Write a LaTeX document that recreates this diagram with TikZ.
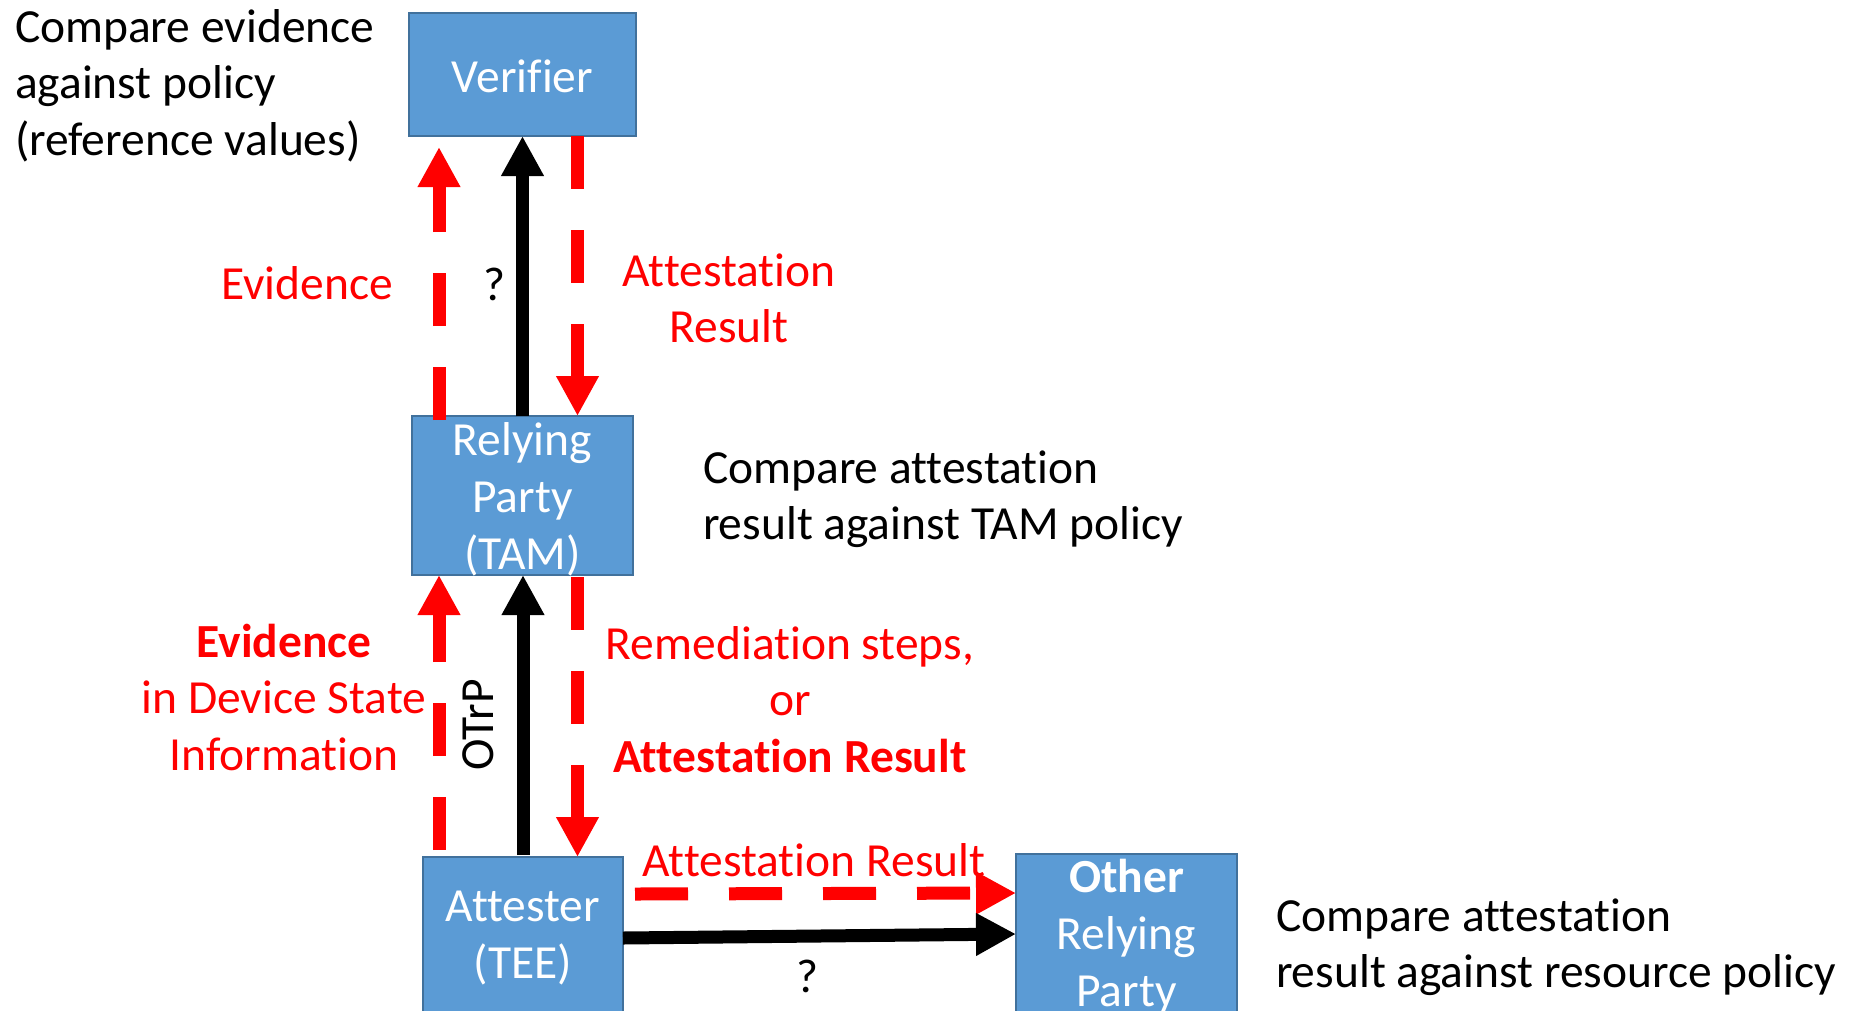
\documentclass[tikz,border=0pt]{standalone}
\usepackage{fontspec}
\setmainfont{Carlito}[Ligatures={NoCommon}]
\usetikzlibrary{arrows.meta}
\definecolor{boxfill}{RGB}{91,155,213}
\definecolor{boxline}{RGB}{65,113,156}
\definecolor{flowred}{RGB}{255,0,0}

\begin{document}
\begin{tikzpicture}[x=1pt,y=-1pt,
  every node/.style={inner sep=0pt, outer sep=0pt},
  entity/.style={draw=boxline, line width=2.5pt, fill=boxfill, rectangle},
  entitytext/.style={text=white, align=center, font=\fontsize{47.5pt}{57pt}\selectfont},
  note/.style={align=left, font=\fontsize{47.5pt}{56.5pt}\selectfont},
  rednote/.style={text=flowred, align=center, font=\fontsize{47.5pt}{56.5pt}\selectfont},
  msgline/.style={line width=13pt, draw=flowred, dash pattern=on 53pt off 41pt,
    -{Triangle[width=40pt,length=40pt]}},
  callline/.style={line width=13pt, draw=black, -{Triangle[width=40pt,length=40pt]}},
]
\clip (0,0) rectangle (1852,1010);
\fill[white] (0,0) rectangle (1852,1010);

% the four parties
\node[entity, minimum width=227pt, minimum height=123pt] (ver) at (522.5,74.5) {};
\node[entity, minimum width=221pt, minimum height=159pt] (rp)  at (522.5,495.5) {};
\node[entity, minimum width=200pt, minimum height=200pt] (att) at (523,957) {};
\node[entity, minimum width=221pt, minimum height=200pt] (orp) at (1126.5,954) {};

% box labels (a multi-line node sits on the baseline of its last line)
\node[entitytext, anchor=base] (vertext) at (522.5,92) {Verifier};
\node[entitytext, anchor=base] (rptext)  at (522.5,569) {Relying\\Party\\(TAM)};
\node[entitytext, anchor=base] (atttext) at (523,978) {Attester\\(TEE)};
\node[entitytext, anchor=base] (orptext) at (1126.5,1006) {\textbf{Other}\\Relying\\Party};

% Verifier <-> Relying Party
\draw[msgline] ([xshift=-83.5pt,yshift=-4pt]rp.north) -- ([xshift=-83.5pt,yshift=-11pt]ver.south);
\draw[callline] (rp.north) -- (ver.south);
\draw[msgline] ([xshift=55pt]ver.south) -- ([xshift=55pt]rp.north);

% Relying Party <-> Attester
\draw[msgline] ([xshift=-84pt,yshift=7pt]att.north) -- ([xshift=-83.5pt]rp.south);
\draw[callline] ([yshift=2pt]att.north) -- (att.north |- rp.south);
\draw[msgline] ([xshift=55pt,yshift=-2pt]rp.south) -- ([xshift=55pt]rp.south |- att.north);

% Attester -> other Relying Party
\draw[msgline] ([shift={(12pt,-37pt)}]att.north east) -- ([yshift=-39pt]orp.north west);
\draw[callline] ([yshift=-81pt]att.north east) -- ([yshift=-80pt]orp.north west);

% annotations
\node[note, anchor=base west] (vernote) at (15,155)
  {Compare evidence\\against policy\\(reference values)};
\node[note, anchor=base west] (rpnote) at (703,539.5)
  {Compare attestation\\result against TAM policy};
\node[note, anchor=base west] (orpnote) at (1276,987.5)
  {Compare attestation\\result against resource policy};

\node[rednote, anchor=base] (evtop) at (307,299) {Evidence};
\node[note, anchor=base] (qtop) at (494,300) {?};
\node[rednote, anchor=base] (artop) at (729,342.5) {Attestation\\Result};

\node[rednote, anchor=base] (evlow) at (284,770)
  {\textbf{Evidence}\\in Device State\\Information};
\node[note, rotate=90] (otrp) at (478,725) {OTrP};
\node[rednote, anchor=base] (remed) at (790,772)
  {Remediation steps,\\or\\\textbf{Attestation Result}};

\node[rednote, anchor=base] (arlow) at (814,876) {Attestation Result};
\node[note, anchor=base] (qlow) at (807,992) {?};
\end{tikzpicture}
\end{document}
